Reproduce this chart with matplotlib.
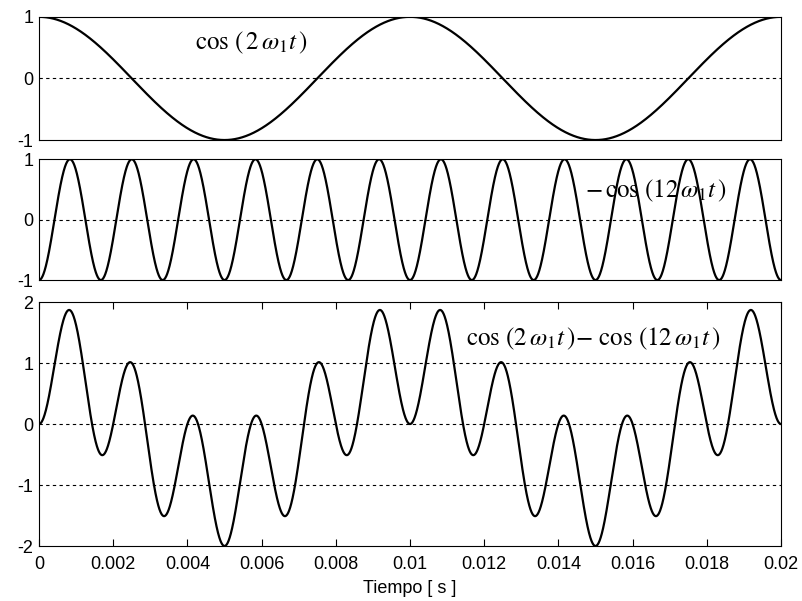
import numpy as np
import matplotlib
matplotlib.use("Agg")
import matplotlib.pyplot as plt

# signal parameters: cos(2 w1 t) - cos(12 w1 t), 0..0.02 s
f1 = 50.0                      # Hz, fundamental (2 cycles of cos(2 w1 t) in 0.02 s)
harmonics = [2, 12]
coefs = [1.0, -1.0]
t_end = 0.02
n_samples = 4001

labels = [r"$\cos\,(\,2\,\omega_1 t\,)$",
          r"$-\,\cos\,(12\,\omega_1 t\,)$",
          r"$\cos\,(2\,\omega_1 t\,)\!-\,\cos\,(12\,\omega_1 t\,)$"]
label_pos = [(0.0042, 0.58), (0.01472, 0.48), (0.01152, 1.40)]

xticks = [0, 0.002, 0.004, 0.006, 0.008, 0.01, 0.012, 0.014, 0.016, 0.018, 0.02]
xticklabels = ["0", "0.002", "0.004", "0.006", "0.008", "0.01", "0.012",
               "0.014", "0.016", "0.018", "0.02"]
yticks_small = [-1, 0, 1]
yticks_big = [-2, -1, 0, 1, 2]

plt.rcParams['font.family'] = ['Liberation Sans', 'DejaVu Sans']
plt.rcParams['mathtext.fontset'] = 'stix'
plt.rcParams['axes.unicode_minus'] = False

w1 = 2 * np.pi * f1
t = np.linspace(0, t_end, n_samples)
s1 = coefs[0] * np.cos(harmonics[0] * w1 * t)
s2 = coefs[1] * np.cos(harmonics[1] * w1 * t)
s3 = s1 + s2

fig = plt.figure(figsize=(8.03, 6.01), dpi=100)
L, W = 0.0486, 0.924
ax1 = fig.add_axes([L, 0.767, W, 0.205])
ax2 = fig.add_axes([L, 0.534, W, 0.201])
ax3 = fig.add_axes([L, 0.0915, W, 0.406])

for ax, y, yt, lab, pos in zip([ax1, ax2, ax3], [s1, s2, s3],
                               [yticks_small, yticks_small, yticks_big],
                               labels, label_pos):
    ax.plot(t, y, color='black', lw=1.6)
    ax.set_xlim(0, t_end)
    ax.set_ylim(yt[0], yt[-1])
    ax.set_yticks(yt)
    ax.set_yticklabels([str(v) for v in yt])
    for v in yt[1:-1]:
        ax.axhline(v, color='black', lw=0.8, ls=(0, (3, 3)), zorder=0)
    ax.tick_params(axis='y', direction='in', length=0, labelsize=13, pad=4)
    ax.text(pos[0], pos[1], lab, fontsize=18, va='center', ha='left')
    for sp in ax.spines.values():
        sp.set_linewidth(0.8)

for ax in [ax1, ax2]:
    ax.set_xticks([])

ax3.set_xticks(xticks)
ax3.set_xticklabels(xticklabels)
ax3.tick_params(axis='x', direction='in', top=True, length=5, labelsize=13, pad=7)
ax3.set_xlabel("Tiempo [ s ]", fontsize=13, labelpad=5)

fig.savefig("out.png", dpi=100)
